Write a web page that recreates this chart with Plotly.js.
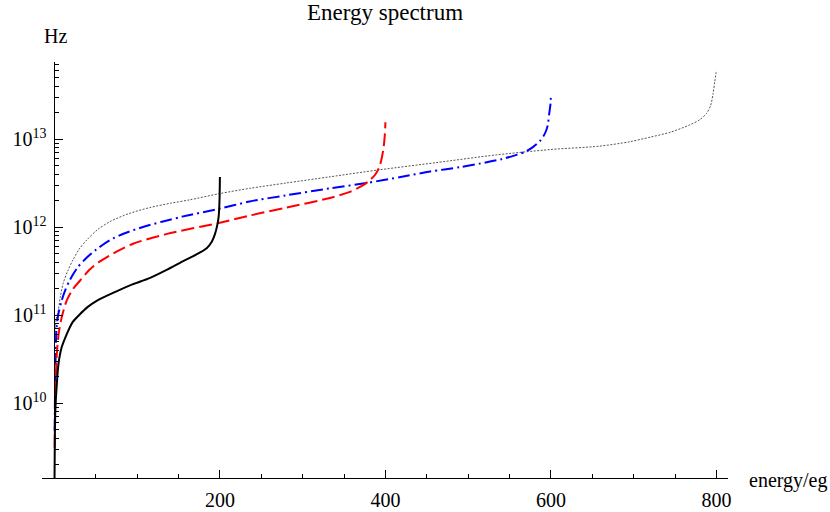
<!DOCTYPE html>
<html>
<head>
<meta charset="utf-8">
<script src="https://cdn.plot.ly/plotly-3.0.1.min.js"></script>
<style>html,body{margin:0;padding:0;background:#fff;}#chart{width:830px;height:512px;}</style>
</head>
<body>
<div id="chart"></div>
<script>
// ---- data ----
const blackX = [0.05, 0.5, 1.2, 2.6, 5, 8.7, 14.7, 22, 30.8, 40, 51, 75, 95, 115, 135, 155, 170, 184, 190, 194, 197, 198.5, 199.5, 200];
const blackY = [1.0e9, 3.98e9, 8.9e9, 1.48e10, 2.82e10, 4.27e10, 6.0e10, 8.3e10, 1.02e11, 1.23e11, 1.45e11, 1.86e11, 2.24e11, 2.63e11, 3.24e11, 4.07e11, 4.79e11, 5.75e11, 6.76e11, 8.3e11, 1.07e12, 1.32e12, 2.0e12, 3.7e12];

const redX = [0.3, 1, 2.6, 5, 8.7, 14.7, 22, 30.8, 42, 55, 75, 95, 135, 200, 236, 280, 333, 357, 372, 381, 388, 393, 397.4, 399.3, 400];
const redY = [3.1e9, 1.0e10, 3.24e10, 6.0e10, 9.3e10, 1.45e11, 1.95e11, 2.45e11, 3.24e11, 4.07e11, 5.25e11, 6.46e11, 8.3e11, 1.12e12, 1.35e12, 1.66e12, 2.14e12, 2.51e12, 2.95e12, 3.39e12, 3.98e12, 4.9e12, 7.5e12, 1.12e13, 1.55e13];

const blueX = [0.3, 1, 2.6, 5, 8.7, 13, 18.7, 28, 38.9, 50, 67, 85, 107, 130, 155.6, 200, 236, 280, 333, 377, 420, 454, 490, 514, 540, 558.5, 570, 578.6, 587, 592.7, 596, 598, 599.5, 600];
const blueY = [4.8e9, 2.0e10, 7.2e10, 1.05e11, 1.45e11, 1.9e11, 2.51e11, 3.47e11, 4.47e11, 5.5e11, 7.1e11, 8.5e11, 1.0e12, 1.15e12, 1.32e12, 1.62e12, 1.95e12, 2.29e12, 2.75e12, 3.16e12, 3.72e12, 4.27e12, 4.79e12, 5.25e12, 5.89e12, 6.6e12, 7.24e12, 8.13e12, 9.55e12, 1.15e13, 1.41e13, 1.95e13, 2.51e13, 3.16e13];

const greyX = [0.8, 2, 4.6, 7, 10.6, 16, 22.7, 30, 39, 52, 67, 90, 115, 140, 164, 200, 236, 280, 333, 393, 460, 534, 600, 659, 695, 720, 745, 768, 780, 788, 793, 796, 798, 799.5, 800];
const greyY = [6.3e10, 8.9e10, 1.12e11, 1.58e11, 2.29e11, 3.16e11, 4.27e11, 5.62e11, 7.1e11, 9.3e11, 1.15e12, 1.42e12, 1.66e12, 1.86e12, 2.04e12, 2.4e12, 2.75e12, 3.16e12, 3.72e12, 4.47e12, 5.37e12, 6.6e12, 7.6e12, 8.3e12, 9.3e12, 1.05e13, 1.2e13, 1.45e13, 1.66e13, 1.95e13, 2.4e13, 3.3e13, 4.47e13, 5.62e13, 6.0e13];

const xTickVals = [200, 400, 600, 800];
const xTickText = ["200", "400", "600", "800"];
const xMinorVals = [50, 100, 150, 250, 300, 350, 450, 500, 550, 650, 700, 750];
const yTickVals = [1e10, 1e11, 1e12, 1e13];
const yTickText = ["10<sup>10</sup>", "10<sup>11</sup>", "10<sup>12</sup>", "10<sup>13</sup>"];
const yMinorVals = [2e9,3e9,4e9,5e9,6e9,7e9,8e9,9e9,
  2e10,3e10,4e10,5e10,6e10,7e10,8e10,9e10,
  2e11,3e11,4e11,5e11,6e11,7e11,8e11,9e11,
  2e12,3e12,4e12,5e12,6e12,7e12,8e12,9e12,
  2e13,3e13,4e13,5e13,6e13,7e13];

const FONT = "Liberation Serif, Times New Roman, serif";

const traces = [
  {x: greyX, y: greyY, mode: "lines", line: {color: "#555555", width: 1, dash: "2px,1.5px", shape: "spline", smoothing: 0.8}, hoverinfo: "skip"},
  {x: blueX, y: blueY, mode: "lines", line: {color: "#0000ff", width: 2, dash: "12px,4px,2px,4px", shape: "spline", smoothing: 0.8}, hoverinfo: "skip"},
  {x: redX, y: redY, mode: "lines", line: {color: "#ff0000", width: 2, dash: "13px,5px", shape: "spline", smoothing: 0.8}, hoverinfo: "skip"},
  {x: blackX, y: blackY, mode: "lines", line: {color: "#000000", width: 2, shape: "spline", smoothing: 0.8}, hoverinfo: "skip"}
];

const layout = {
  width: 830, height: 512,
  margin: {l: 42, r: 102, t: 62, b: 34},
  paper_bgcolor: "#fff", plot_bgcolor: "#fff",
  showlegend: false,
  font: {family: FONT, size: 19, color: "#000"},
  title: {text: "Energy spectrum", font: {family: FONT, size: 23, color: "#000"},
          x: 0.5, xref: "paper", xanchor: "center", y: 0.976, yref: "container", yanchor: "middle"},
  xaxis: {
    range: [-15, 814], showline: true, linecolor: "#000", linewidth: 1,
    showgrid: false, zeroline: false,
    tickmode: "array", tickvals: xTickVals, ticktext: xTickText,
    ticks: "inside", ticklen: 8, tickwidth: 1, tickcolor: "#000",
    ticklabelstandoff: 4,
    tickfont: {family: FONT, size: 20, color: "#000"},
    minor: {tickmode: "array", tickvals: xMinorVals, ticks: "inside", ticklen: 4, tickwidth: 1, tickcolor: "#000", showgrid: false}
  },
  yaxis: {
    type: "log", range: [9.148, 13.875],
    anchor: "free", position: 0.0182,
    showline: true, linecolor: "#000", linewidth: 1,
    showgrid: false, zeroline: false,
    tickmode: "array", tickvals: yTickVals, ticktext: yTickText,
    ticks: "inside", ticklen: 8, tickwidth: 1, tickcolor: "#000",
    ticklabelstandoff: 4,
    tickfont: {family: FONT, size: 20, color: "#000"},
    minor: {tickmode: "array", tickvals: yMinorVals, ticks: "inside", ticklen: 4, tickwidth: 1, tickcolor: "#000", showgrid: false}
  },
  annotations: [
    {text: "Hz", xref: "paper", yref: "paper", x: 0.019, y: 1.0625, xanchor: "center", yanchor: "middle",
     showarrow: false, font: {family: FONT, size: 20, color: "#000"}},
    {text: "energy/eg", xref: "paper", yref: "paper", x: 1.0277, y: -0.005, xanchor: "left", yanchor: "middle",
     showarrow: false, font: {family: FONT, size: 20, color: "#000"}}
  ]
};

Plotly.newPlot("chart", traces, layout, {staticPlot: true, displayModeBar: false});
</script>
</body>
</html>
